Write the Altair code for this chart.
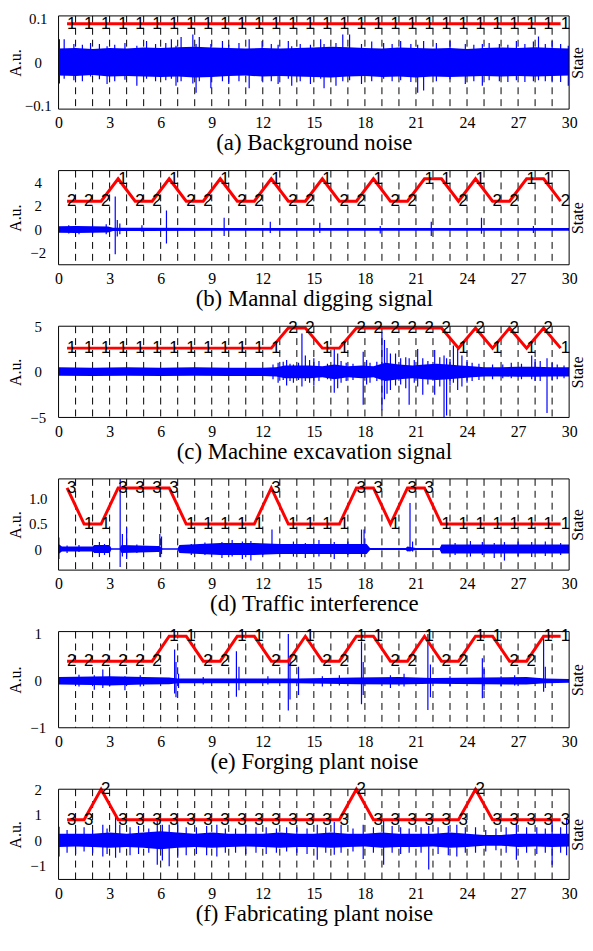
import altair as alt
import pandas as pd

SERIF = "Liberation Serif"
SANS = "Liberation Sans"

STATE_T = [0.5, 1.5, 2.5, 3.5, 4.5, 5.5, 6.5, 7.5, 8.5, 9.5, 10.5, 11.5, 12.5, 13.5, 14.5,
           15.5, 16.5, 17.5, 18.5, 19.5, 20.5, 21.5, 22.5, 23.5, 24.5, 25.5, 26.5, 27.5, 28.5, 29.5]
DASH_T = [1, 2, 3, 4, 5, 6, 7, 8, 9, 10, 11, 12, 13, 14, 15, 16, 17, 18, 19, 20,
          21, 22, 23, 24, 25, 26, 27, 28, 29]
X_TICKS = [0, 3, 6, 9, 12, 15, 18, 21, 24, 27, 30]

# ---------------- (a) Background noise ----------------
A_TITLE = "(a) Background noise"
A_YDOM = [-0.1, 0.1]
A_YTICKS = [-0.1, 0, 0.1]
A_STATES = [1, 1, 1, 1, 1, 1, 1, 1, 1, 1, 1, 1, 1, 1, 1, 1, 1, 1, 1, 1, 1, 1, 1, 1, 1, 1, 1, 1, 1, 1]
A_STATE_Y = {1: 0.083}
A_BT = [0, 1, 2, 3, 4, 5, 6, 7, 8, 9, 10, 11, 12, 13, 14, 15, 16, 17, 18, 19, 20, 21, 22, 23, 24, 25, 26, 27, 28, 29, 30]
A_UP = [0.030, 0.031, 0.029, 0.031, 0.030, 0.032, 0.031, 0.033, 0.034, 0.032, 0.031, 0.030, 0.031, 0.030, 0.031, 0.032,
        0.034, 0.033, 0.031, 0.030, 0.032, 0.031, 0.030, 0.031, 0.029, 0.031, 0.032, 0.031, 0.033, 0.031, 0.030]
A_LO = [-0.028, -0.029, -0.027, -0.030, -0.029, -0.030, -0.031, -0.030, -0.032, -0.031, -0.029, -0.028, -0.030, -0.029, -0.030, -0.031,
        -0.032, -0.030, -0.029, -0.031, -0.030, -0.032, -0.030, -0.031, -0.030, -0.029, -0.030, -0.029, -0.030, -0.029, -0.028]
A_SK_T = [0.05, 0.33, 0.9, 1.4, 1.88, 2.4, 2.85, 3.3, 3.9, 4.6, 5.17, 5.7, 6.3, 6.63, 6.9, 7.2, 7.89, 8.08, 8.27, 8.95,
          9.63, 10.0, 10.6, 11.2, 11.96, 12.5, 12.9, 13.5, 13.7, 14.2, 14.8, 15.4, 15.6, 16.3, 16.7, 17.1, 17.8, 18.4,
          19.1, 19.6, 20.1, 20.7, 21.1, 21.45, 22.2, 23.0, 23.9, 24.4, 24.9, 25.3, 25.9, 26.4, 26.9, 27.4, 27.9, 28.2,
          28.6, 29.0, 29.5, 29.95]
A_SK_LO = [-0.045, -0.035, -0.038, -0.04, -0.03, -0.036, -0.046, -0.04, -0.037, -0.05, -0.035, -0.04, -0.038, -0.035,
           -0.05, -0.04, -0.045, -0.065, -0.04, -0.055, -0.04, -0.046, -0.04, -0.055, -0.04, -0.04, -0.046, -0.035,
           -0.05, -0.04, -0.046, -0.035, -0.055, -0.05, -0.04, -0.038, -0.046, -0.04, -0.035, -0.04, -0.038, -0.042,
           -0.065, -0.06, -0.04, -0.036, -0.046, -0.04, -0.05, -0.038, -0.04, -0.042, -0.038, -0.042, -0.04, -0.038,
           -0.04, -0.04, -0.042, -0.05]
A_SK_HI = [0.05, 0.05, 0.04, 0.038, 0.042, 0.04, 0.035, 0.038, 0.042, 0.036, 0.046, 0.04, 0.042, 0.05, 0.036, 0.055,
           0.06, 0.04, 0.055, 0.04, 0.046, 0.038, 0.042, 0.05, 0.046, 0.04, 0.038, 0.046, 0.035, 0.04, 0.038, 0.05,
           0.04, 0.042, 0.06, 0.06, 0.04, 0.045, 0.042, 0.04, 0.046, 0.04, 0.038, 0.046, 0.042, 0.046, 0.04, 0.038,
           0.04, 0.042, 0.04, 0.038, 0.046, 0.04, 0.045, 0.056, 0.04, 0.046, 0.04, 0.036]

# ---------------- (b) Mannal digging signal ----------------
B_TITLE = "(b) Mannal digging signal"
B_YDOM = [-3, 5]
B_YTICKS = [-2, 0, 2, 4]
B_STATES = [2, 2, 2, 1, 2, 2, 1, 2, 2, 1, 2, 2, 1, 2, 2, 1, 2, 2, 1, 2, 2, 1, 1, 2, 1, 2, 2, 1, 1, 2]
B_STATE_Y = {2: 2.4, 1: 4.3}
B_BT = [0, 1, 2, 2.9, 3.2, 5, 10, 15, 20, 25, 30]
B_UP = [0.28, 0.3, 0.28, 0.25, 0.14, 0.14, 0.13, 0.13, 0.13, 0.13, 0.13]
B_LO = [-0.28, -0.3, -0.28, -0.25, -0.13, -0.13, -0.12, -0.12, -0.12, -0.12, -0.12]
B_SK_T = [0.6, 1.2, 2.0, 2.8, 3.33, 3.45, 3.6, 4.9, 6.34, 9.73, 12.44, 15.35, 18.9, 21.9, 24.85, 27.9]
B_SK_LO = [-0.35, -0.4, -0.35, -0.4, -2.1, -0.6, -0.4, -0.2, -1.2, -0.55, -0.3, -0.3, -0.35, -0.55, -0.36, -0.3]
B_SK_HI = [0.35, 0.3, 0.4, 0.45, 2.8, 0.8, 0.5, 0.35, 1.6, 1.0, 0.65, 0.57, 0.3, 0.65, 1.0, 0.3]

# ---------------- (c) Machine excavation signal ----------------
C_TITLE = "(c) Machine excavation signal"
C_YDOM = [-5, 5]
C_YTICKS = [-5, 0, 5]
C_STATES = [1, 1, 1, 1, 1, 1, 1, 1, 1, 1, 1, 1, 1, 2, 2, 1, 1, 2, 2, 2, 2, 2, 2, 1, 2, 1, 2, 1, 2, 1]
C_STATE_Y = {1: 2.6, 2: 4.8}
C_BT = [0, 2, 4, 6, 8, 10, 12, 12.8, 13.3, 14, 14.8, 15.5, 16.2, 17, 17.8, 18.5, 19.2, 20, 20.8, 21.5,
        22.2, 22.9, 23.6, 24.3, 25, 26, 27, 28, 29, 30]
C_UP = [0.5, 0.45, 0.5, 0.45, 0.5, 0.45, 0.45, 0.5, 0.7, 0.7, 0.7, 0.6, 0.8, 0.6, 0.7, 0.6, 1.0, 0.8, 0.7, 0.8,
        0.9, 0.8, 0.7, 0.6, 0.5, 0.5, 0.55, 0.55, 0.5, 0.5]
C_LO = [-0.42, -0.45, -0.42, -0.45, -0.42, -0.45, -0.45, -0.5, -0.7, -0.7, -0.7, -0.6, -0.8, -0.6, -0.7, -0.6,
        -1.0, -0.8, -0.7, -0.8, -0.9, -0.8, -0.7, -0.6, -0.5, -0.5, -0.55, -0.55, -0.5, -0.5]
C_SK_T = [12.6, 12.9, 13.2, 13.4, 13.6, 13.8, 14.1, 14.3, 14.5, 14.75, 15.0, 15.3, 15.8, 16.2, 16.4, 16.6, 16.9,
          17.3, 17.9, 18.1, 18.3, 18.7, 19.0, 19.15, 19.3, 19.5, 19.8, 20.1, 20.4, 20.6, 20.9, 21.1, 21.4, 21.7,
          22.1, 22.4, 22.65, 22.8, 23.0, 23.2, 23.45, 23.7, 24.0, 24.3, 24.7, 25.5, 26.1, 26.6, 27.2, 27.8, 28.0,
          28.3, 28.7, 29.0, 29.3, 29.7]
C_SK_LO = [-0.8, -1.2, -0.9, -1.5, -1.0, -1.2, -0.9, -1.6, -1.0, -1.2, -1.5, -1.0, -0.8, -2.3, -1.8, -1.2, -1.0,
           -0.9, -3.6, -1.4, -1.2, -1.0, -4.2, -3.0, -2.4, -2.0, -1.5, -1.4, -1.8, -3.6, -1.2, -1.6, -2.5, -1.4,
           -2.5, -1.6, -5.0, -4.8, -1.5, -1.2, -2.0, -1.6, -1.2, -1.0, -0.9, -0.8, -0.7, -0.7, -0.8, -0.8, -1.0,
           -1.0, -4.5, -0.9, -0.8, -0.7]
C_SK_HI = [0.8, 1.0, 1.1, 1.3, 0.9, 0.8, 1.0, 4.2, 1.8, 1.3, 1.5, 1.2, 0.9, 2.5, 2.0, 1.2, 1.0, 0.9, 2.2, 1.3,
           1.0, 1.1, 4.35, 3.5, 2.6, 2.0, 2.0, 1.5, 1.6, 1.5, 1.3, 2.5, 1.5, 1.2, 2.4, 1.6, 1.8, 1.5, 1.4, 2.9,
           2.5, 1.8, 1.3, 1.0, 0.9, 0.8, 0.8, 1.0, 0.9, 1.8, 1.4, 1.2, 1.5, 1.0, 0.8, 0.7]

# ---------------- (d) Traffic interference ----------------
D_TITLE = "(d) Traffic interference"
D_YDOM = [-0.42, 1.4]
D_YTICKS = [0, 0.5, 1.0]
D_STATES = [3, 1, 1, 3, 3, 3, 3, 1, 1, 1, 1, 1, 3, 1, 1, 1, 1, 3, 3, 1, 3, 3, 1, 1, 1, 1, 1, 1, 1, 1]
D_STATE_Y = {3: 1.22, 1: 0.5}
D_BT = [0, 0.2, 2.0, 2.1, 3.0, 3.1, 3.6, 3.7, 5.8, 5.9, 6.1, 7.0, 7.1, 9.5, 11.5, 13, 17.6, 18.1, 18.3,
        20.4, 20.5, 21.0, 22.4, 22.5, 30]
D_UP = [0.1, 0.05, 0.05, 0.08, 0.08, 0.015, 0.015, 0.08, 0.06, 0.06, 0.015, 0.015, 0.08, 0.12, 0.12, 0.1,
        0.1, 0.1, 0.02, 0.02, 0.05, 0.02, 0.02, 0.09, 0.09]
D_LO = [-0.1, -0.05, -0.05, -0.08, -0.08, -0.015, -0.015, -0.08, -0.06, -0.06, -0.015, -0.015, -0.08, -0.12,
        -0.12, -0.1, -0.1, -0.1, -0.02, -0.02, -0.05, -0.02, -0.02, -0.09, -0.09]
D_SK_T = [0.02, 0.5, 1.2, 2.4, 2.7, 3.62, 3.75, 4.0, 4.6, 5.95, 6.05, 7.8, 8.6, 9.6, 10.2, 10.8, 11.3, 12.0,
          12.54, 13.8, 14.5, 15.3, 16.2, 17.0, 17.8, 17.95, 20.65, 20.8, 23.3, 24.2, 24.9, 25.6, 26.2, 27.0,
          27.8, 28.6, 29.5]
D_SK_LO = [-0.2, -0.08, -0.06, -0.16, -0.12, -0.36, -0.15, -0.2, -0.08, -0.16, -0.1, -0.12, -0.12, -0.18, -0.15,
           -0.2, -0.23, -0.12, -0.1, -0.15, -0.18, -0.15, -0.2, -0.12, -0.16, -0.1, -0.05, -0.05, -0.12, -0.15,
           -0.12, -0.18, -0.23, -0.14, -0.16, -0.14, -0.12]
D_SK_HI = [0.23, 0.07, 0.08, 0.14, 0.1, 1.4, 0.3, 0.43, 0.09, 0.3, 0.25, 0.1, 0.13, 0.14, 0.18, 0.15, 0.16, 0.1,
           0.39, 0.15, 0.12, 0.18, 0.14, 0.15, 0.39, 0.39, 0.92, 0.15, 0.12, 0.16, 0.14, 0.12, 0.14, 0.15, 0.14,
           0.15, 0.12]

# ---------------- (e) Forging plant noise ----------------
E_TITLE = "(e) Forging plant noise"
E_YDOM = [-1, 1.05]
E_YTICKS = [-1, 0, 1]
E_STATES = [2, 2, 2, 2, 2, 2, 1, 1, 2, 2, 1, 1, 2, 2, 1, 2, 2, 1, 1, 2, 2, 1, 2, 2, 1, 1, 2, 2, 1, 1]
E_STATE_Y = {2: 0.42, 1: 0.95}
E_BT = [0, 2, 3, 5, 6.5, 7.0, 10.3, 14, 17.5, 20, 22, 25, 27.5, 28.6, 30]
E_UP = [0.08, 0.09, 0.1, 0.08, 0.07, 0.05, 0.05, 0.05, 0.07, 0.08, 0.06, 0.07, 0.08, 0.05, 0.04]
E_LO = [-0.08, -0.09, -0.1, -0.08, -0.07, -0.05, -0.05, -0.05, -0.07, -0.08, -0.06, -0.07, -0.08, -0.05, -0.04]
E_SK_T = [1.2, 2.1, 2.6, 3.0, 3.9, 4.8, 6.82, 6.9, 7.05, 8.5, 10.45, 10.6, 12.3, 13.5, 13.6, 14.1, 15.5, 16.5,
          17.8, 17.9, 19.5, 20.3, 21.7, 21.85, 23.0, 24.9, 25.0, 26.0, 26.8, 28.5, 28.6]
E_SK_LO = [-0.12, -0.19, -0.15, -0.12, -0.2, -0.12, -0.27, -0.35, -0.15, -0.08, -0.34, -0.2, -0.08, -0.63, -0.4,
           -0.3, -0.12, -0.1, -0.5, -0.3, -0.15, -0.12, -0.62, -0.35, -0.12, -0.37, -0.2, -0.12, -0.1, -0.23, -0.15]
E_SK_HI = [0.13, 0.12, 0.24, 0.15, 0.1, 0.12, 0.67, 0.4, 0.15, 0.08, 0.63, 0.3, 0.1, 1.0, 0.5, 0.3, 0.1, 0.12,
           0.84, 0.4, 0.12, 0.15, 1.0, 0.35, 0.1, 0.48, 0.25, 0.1, 0.12, 0.95, 0.3]

# ---------------- (f) Fabricating plant noise ----------------
F_TITLE = "(f) Fabricating plant noise"
F_YDOM = [-1.55, 2.0]
F_YTICKS = [-1, 0, 1, 2]
F_STATES = [3, 3, 2, 3, 3, 3, 3, 3, 3, 3, 3, 3, 3, 3, 3, 3, 3, 2, 3, 3, 3, 3, 3, 3, 2, 3, 3, 3, 3, 3]
F_STATE_Y = {3: 0.8, 2: 2.0}
F_BT = [0, 1, 2, 3, 4, 5, 6, 7, 8, 9, 10, 11, 12, 13, 14, 15, 16, 17, 18, 19, 20, 21, 22, 23, 24, 25, 26, 27, 28, 29, 30]
F_UP = [0.25, 0.25, 0.25, 0.3, 0.25, 0.3, 0.35, 0.3, 0.25, 0.3, 0.25, 0.25, 0.25, 0.3, 0.25, 0.25, 0.3, 0.25, 0.25,
        0.3, 0.25, 0.25, 0.25, 0.3, 0.25, 0.2, 0.2, 0.25, 0.25, 0.25, 0.25]
F_LO = [-0.27, -0.25, -0.27, -0.3, -0.27, -0.3, -0.36, -0.3, -0.27, -0.3, -0.27, -0.25, -0.27, -0.3, -0.27,
        -0.27, -0.3, -0.27, -0.25, -0.3, -0.27, -0.27, -0.25, -0.3, -0.27, -0.22, -0.22, -0.27, -0.25, -0.27, -0.25]
F_SK_T = [0.03, 0.5, 1.0, 1.5, 2.0, 2.6, 2.85, 3.35, 3.6, 4.2, 4.7, 5.3, 5.8, 6.1, 6.5, 7.0, 7.5, 8.1, 8.7, 9.3,
          9.8, 10.4, 11.0, 11.6, 12.2, 12.8, 13.4, 14.0, 14.6, 15.2, 15.7, 16.2, 16.6, 17.3, 17.9, 18.5, 19.1,
          19.6, 20.1, 20.6, 21.3, 21.75, 22.3, 22.9, 23.4, 23.9, 24.5, 25.1, 25.7, 26.3, 26.9, 27.5, 28.1, 28.6,
          29.0, 29.5, 29.85]
F_SK_LO = [-0.65, -0.5, -0.55, -0.45, -0.5, -0.65, -0.55, -0.7, -0.5, -0.6, -0.55, -0.5, -0.97, -0.8, -1.03,
           -0.7, -0.6, -0.55, -0.6, -0.65, -0.5, -0.5, -0.55, -0.5, -0.55, -0.5, -0.45, -0.5, -0.55, -0.78, -0.5,
           -0.58, -0.5, -0.45, -0.75, -0.5, -0.97, -0.5, -0.55, -0.5, -0.5, -1.16, -0.55, -0.6, -0.65, -0.5, -0.5,
           -0.45, -0.4, -0.5, -0.78, -0.5, -0.55, -0.5, -0.97, -0.5, -0.6]
F_SK_HI = [0.52, 0.4, 0.45, 0.5, 0.4, 0.6, 0.45, 1.0, 0.6, 0.5, 0.55, 0.45, 0.8, 0.6, 0.6, 0.7, 0.5, 0.5, 0.55,
           0.6, 0.45, 0.45, 0.6, 0.5, 0.5, 0.45, 0.5, 0.5, 0.45, 0.6, 0.5, 0.72, 0.6, 0.45, 0.6, 0.5, 0.77, 0.55,
           0.5, 0.45, 0.5, 0.55, 0.5, 0.55, 0.6, 0.5, 0.5, 0.4, 0.45, 0.5, 0.65, 0.5, 0.5, 0.45, 0.77, 0.5, 0.84]

PANELS = [
    (A_TITLE, A_YDOM, A_YTICKS, "format(datum.value, '.1~f')", 94, True, A_BT, A_UP, A_LO, A_SK_T, A_SK_LO, A_SK_HI, A_STATES, A_STATE_Y),
    (B_TITLE, B_YDOM, B_YTICKS, "format(datum.value, 'd')", 95, False, B_BT, B_UP, B_LO, B_SK_T, B_SK_LO, B_SK_HI, B_STATES, B_STATE_Y),
    (C_TITLE, C_YDOM, C_YTICKS, "format(datum.value, 'd')", 92, False, C_BT, C_UP, C_LO, C_SK_T, C_SK_LO, C_SK_HI, C_STATES, C_STATE_Y),
    (D_TITLE, D_YDOM, D_YTICKS, "datum.value == 0 ? '0' : format(datum.value, '.1f')", 92, False, D_BT, D_UP, D_LO, D_SK_T, D_SK_LO, D_SK_HI, D_STATES, D_STATE_Y),
    (E_TITLE, E_YDOM, E_YTICKS, "format(datum.value, 'd')", 97, False, E_BT, E_UP, E_LO, E_SK_T, E_SK_LO, E_SK_HI, E_STATES, E_STATE_Y),
    (F_TITLE, F_YDOM, F_YTICKS, "format(datum.value, 'd')", 91, False, F_BT, F_UP, F_LO, F_SK_T, F_SK_LO, F_SK_HI, F_STATES, F_STATE_Y),
]

W = 515


def make_panel(title, ydom, yticks, yexpr, h, flush, bt, up, lo, sk_t, sk_lo, sk_hi, states, state_y):
    xs = alt.Scale(domain=[0, 30], nice=False, zero=False)
    ys = alt.Scale(domain=ydom, nice=False, zero=False)
    xaxis = alt.Axis(values=X_TICKS, format="d", title=title, labelFlush=False, labelOverlap=False,
                     ticks=False, domain=False, grid=False, labelFont=SERIF, labelFontSize=16,
                     labelColor="black", labelPadding=6, titleFont=SERIF, titleFontSize=23,
                     titleFontWeight="normal", titleColor="black", titlePadding=1)
    yaxis_kw = dict(values=yticks, labelExpr=yexpr, title="A.u.", ticks=False, domain=False,
                    grid=False, labelFont=SERIF, labelFontSize=15, labelColor="black", labelAlign="center",
                    labelPadding=21, labelOverlap=False, titleFont=SERIF, titleFontSize=16,
                    titleFontWeight="normal", titleColor="black", titleAngle=270, titleX=-43, titleY=h / 2,
                    titleBaseline="middle", titleAlign="center")
    if flush:
        yaxis_kw.update(labelFlush=True, labelFlushOffset=4)
    else:
        yaxis_kw.update(labelFlush=False)
    yaxis = alt.Axis(**yaxis_kw)

    dash_df = pd.DataFrame({"t": DASH_T})
    band_df = pd.DataFrame({"t": bt, "v": up, "v2": lo})
    spk_df = pd.DataFrame({"t": sk_t, "v": sk_lo, "v2": sk_hi})
    st_df = pd.DataFrame({"t": STATE_T, "v": [state_y[s] for s in states], "label": [str(s) for s in states]})

    X = alt.X("t:Q", scale=xs, axis=xaxis)
    Y = alt.Y("v:Q", scale=ys, axis=yaxis)

    dash = alt.Chart(dash_df).mark_rule(color="black", strokeDash=[7, 5], strokeWidth=1).encode(x=X)
    band = alt.Chart(band_df).mark_area(color="#0000ff", opacity=1, clip=True).encode(x=X, y=Y, y2="v2:Q")
    spikes = alt.Chart(spk_df).mark_rule(color="#0000ff", strokeWidth=1.2, clip=True).encode(x=X, y=Y, y2="v2:Q")
    red = alt.Chart(st_df).mark_line(color="#ff0000", strokeWidth=3).encode(x=X, y=Y)
    txt = alt.Chart(st_df).mark_text(align="left", baseline="middle", font=SANS, fontSize=17,
                                     color="black").encode(x=X, y=Y, text="label:N")
    frame = alt.Chart(pd.DataFrame({"f": [0]})).mark_rect(fillOpacity=0, stroke="black", strokeWidth=1).encode(
        x=alt.value(0), x2=alt.value(W), y=alt.value(0), y2=alt.value(h))
    inner = alt.layer(dash, band, spikes, red, txt, frame)
    right = alt.Chart(pd.DataFrame({"s": [0, 1]})).mark_point(opacity=0).encode(
        y=alt.Y("s:Q", scale=alt.Scale(domain=[0, 1]),
                axis=alt.Axis(orient="right", title="State", labels=False, ticks=False, domain=False,
                              grid=False, titleFont=SERIF, titleFontSize=16, titleFontWeight="normal",
                              titleColor="black", titleAngle=270, titleX=8, titleY=h / 2 - 16,
                              titleBaseline="middle", titleAlign="right")))
    return alt.layer(inner, right).resolve_scale(y="independent").properties(width=W, height=h)


charts = [make_panel(*p) for p in PANELS]

chart = alt.vconcat(*charts, spacing=62, bounds="flush").configure_view(
    stroke=None).properties(padding=0, background="white")

chart.save("out.html", embed_options={"renderer": "svg", "actions": False})
